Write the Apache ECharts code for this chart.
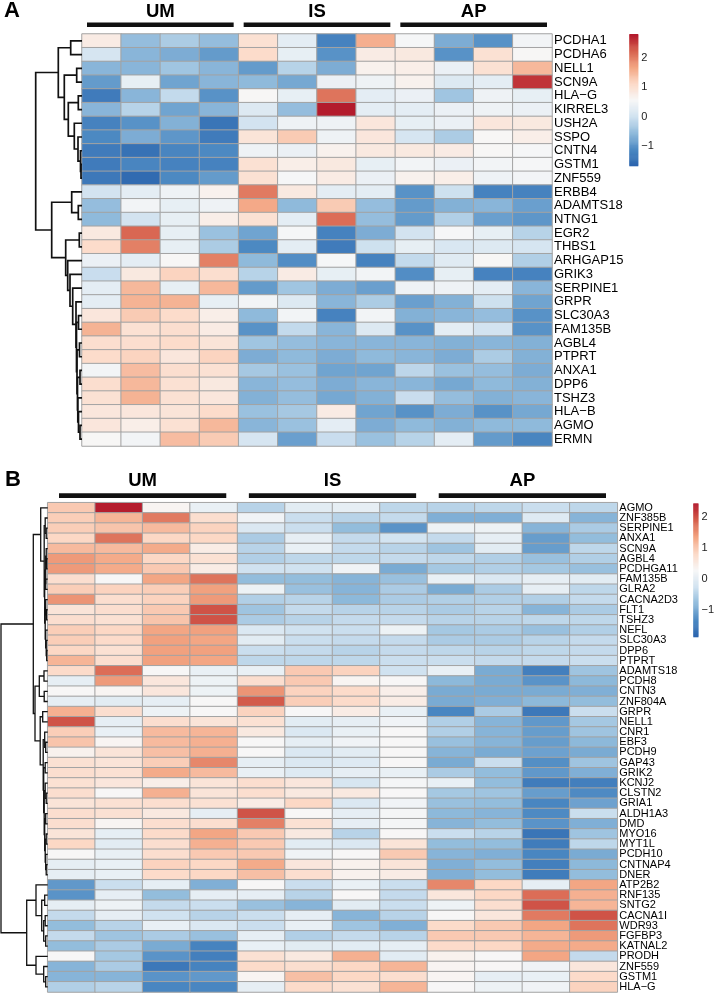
<!DOCTYPE html>
<html><head><meta charset="utf-8">
<script src="https://cdn.jsdelivr.net/npm/echarts@6/dist/echarts.min.js"></script>
<style>html,body{margin:0;padding:0;background:#fff}#c{width:717px;height:993px}</style>
</head><body><div id="c"></div>
<script>
const FONT = 'Liberation Sans, Arial, Helvetica, sans-serif';
const samples = ['UM1','UM2','UM3','UM4','IS1','IS2','IS3','IS4','AP1','AP2','AP3','AP4'];
const groups = ['UM','IS','AP'];
const groupCols = [[0,3],[4,7],[8,11]];

const genesA = ['PCDHA1','PCDHA6','NELL1','SCN9A','HLA\u2212G','KIRREL3','USH2A','SSPO','CNTN4','GSTM1','ZNF559','ERBB4','ADAMTS18','NTNG1','EGR2','THBS1','ARHGAP15','GRIK3','SERPINE1','GRPR','SLC30A3','FAM135B','AGBL4','PTPRT','ANXA1','DPP6','TSHZ3','HLA\u2212B','AGMO','ERMN'];
const valuesA = [
[0.8,-0.5,-0.3,-0.5, 1.0,0.3,-1.2,1.6, 0.55,-0.7,-1.0,0.5],
[0.1,-0.6,-0.7,-0.9, 1.1,0.35,-1.0,0.8, 0.85,-1.0,1.0,0.6],
[-0.6,-0.6,-0.4,-0.6, -0.9,-0.2,-0.7,0.7, 0.75,0.4,1.0,1.5],
[-0.9,0.35,-0.8,-0.6, -0.55,-0.75,0.4,0.45, 0.7,0.2,0.3,2.6],
[-1.3,-0.6,-0.1,-1.0, 0.6,0.35,2.1,0.3, 0.4,-0.4,0.45,0.35],
[-0.6,-0.2,-0.8,-0.6, 0.2,-0.5,2.8,0.3, 0.3,0.4,0.45,0.4],
[-1.2,-1.0,-0.65,-1.4, 0.05,0.45,0.45,0.9, 0.35,0.4,0.9,0.85],
[-1.1,-0.7,-0.95,-1.3, 0.95,1.3,0.45,0.9, 0.1,-0.3,0.6,0.75],
[-1.3,-1.45,-1.15,-1.1, 0.45,0.4,0.7,0.85, 0.85,0.8,0.6,0.55],
[-1.3,-1.15,-1.2,-1.2, 1.0,0.75,0.85,0.35, 0.5,0.4,0.5,0.55],
[-1.35,-1.55,-1.1,-0.9, 1.0,0.55,0.8,0.4, 0.7,0.75,0.45,0.5],
[0.05,0.3,0.45,0.7, 2.05,0.85,0.3,0.3, -1.0,0.0,-1.2,-1.2],
[-0.5,0.5,0.35,0.45, 1.65,-0.55,1.3,-0.5, -0.9,-0.65,-0.6,-0.85],
[-0.55,0.05,0.35,0.75, 1.0,0.3,2.15,-0.5, -0.9,-0.25,-0.85,-0.95],
[0.85,2.2,0.35,-0.45, -0.8,0.55,-1.2,-0.7, 0.05,0.55,0.35,-0.2],
[1.1,2.0,0.35,-0.3, -1.1,0.3,-1.3,0.0, 0.35,0.15,0.2,0.1],
[0.4,0.3,0.6,2.0, -0.55,-1.05,0.55,-1.2, -0.1,0.25,0.6,-0.25],
[-0.05,0.85,1.2,1.05, -0.2,0.8,0.35,0.5, -1.05,0.35,-1.2,-1.2],
[0.3,1.5,0.35,1.5, -0.9,-0.4,-0.7,-0.85, 0.45,0.45,0.3,-0.6],
[0.3,1.55,1.55,0.35, 0.5,0.2,-0.6,-0.3, -0.85,-0.65,0.0,-0.8],
[0.9,1.3,1.1,0.75, -0.55,0.5,-1.2,0.5, -0.65,-0.6,-0.5,-1.0],
[1.55,1.0,1.05,0.8, -1.0,-0.1,-0.6,0.2, -1.0,0.3,0.05,-1.0],
[1.05,1.05,1.1,0.95, -0.4,-0.5,-0.6,-0.6, -0.6,-0.65,-0.6,-0.65],
[1.1,1.2,0.9,1.2, -0.7,-0.55,-0.7,-0.55, -0.6,-0.7,-0.3,-0.65],
[0.5,1.45,1.05,1.0, -0.35,-0.45,-0.8,-0.8, -0.15,-0.45,-0.5,-0.7],
[1.05,1.5,1.0,0.85, -0.6,-0.5,-0.7,-0.6, -0.6,-0.75,-0.55,-0.65],
[1.0,1.55,1.0,0.9, -0.65,-0.5,-0.75,-0.65, -0.05,-0.5,-0.65,-0.6],
[0.9,0.9,0.95,1.1, -0.45,-0.35,0.8,-0.8, -1.0,-0.7,-1.0,-0.75],
[0.9,0.75,1.0,1.5, -0.6,-0.45,0.3,-0.7, -0.55,-0.65,-0.55,-0.55],
[0.6,0.5,1.45,1.3, 0.1,-0.85,-0.05,-0.45, -0.2,0.3,-0.9,-1.15]
];
// dendrogram: [height, left, right]; leaf = row index
const treeA =
[46.3,
  [23.7,
    [11.3, 0, 1],
    [17.7,
      [5.3, 2, 3],
      [13.7,
        [3.7, 4, 5],
        [7.7, 6, [4, 7, [1.5, 8, [1, 9, 10]]]]]]],
  [30.3,
    [10.3, 11, [3.7, 12, 13]],
    [16.3,
      [2.7, 14, 15],
      [14.3, 16,
        [12, 17,
          [9.3, 18,
            [6, 19,
              [5.5, [3.5, 20, 21],
                [5, [2.5, 22, 23],
                  [4.5, [2, 24, 25],
                    [4.2, 26, [3.5, 27, [2, 28, 29]]]]]]]]]]]]];
const rangeA = [-1.67, 2.82];
const ticksA = [-1, 0, 1, 2];

const genesB = ['AGMO','ZNF385B','SERPINE1','ANXA1','SCN9A','AGBL4','PCDHGA11','FAM135B','GLRA2','CACNA2D3','FLT1','TSHZ3','NEFL','SLC30A3','DPP6','PTPRT','ADAMTS18','PCDH8','CNTN3','ZNF804A','GRPR','NELL1','CNR1','EBF3','PCDH9','GAP43','GRIK2','KCNJ2','CLSTN2','GRIA1','ALDH1A3','DMD','MYO16','MYT1L','PCDH10','CNTNAP4','DNER','ATP2B2','RNF135','SNTG2','CACNA1I','WDR93','FGFBP3','KATNAL2','PRODH','ZNF559','GSTM1','HLA\u2212G'];
const valuesB = [
[1.0,2.4,0.35,0.1, -0.45,0.0,0.05,-0.4, -0.45,-0.4,-0.3,-0.4],
[0.95,1.2,1.7,0.75, 0.2,-0.3,-0.45,-0.35, -0.9,-0.9,-0.05,-0.85],
[0.95,1.05,1.15,0.9, -0.1,-0.3,-0.75,-1.2, 0.15,0.15,-0.85,-0.55],
[0.85,1.75,0.85,0.85, -0.55,0.05,-0.35,-0.2, -0.35,0.05,-1.1,-0.75],
[1.15,1.15,1.3,0.5, -0.45,0.1,-0.35,-0.45, -0.65,0.0,-1.1,-0.4],
[1.45,1.3,0.85,0.7, -0.5,-0.4,-0.4,-0.35, -0.4,-0.5,-0.7,-0.5],
[1.45,1.3,1.0,0.5, -0.25,-0.25,0.2,-0.95, -0.6,-0.5,-0.6,-0.7],
[0.75,0.3,1.35,1.75, -0.75,-0.75,-0.85,-0.7, 0.1,-0.1,0.05,0.0],
[0.95,0.9,0.95,1.4, 0.15,-0.7,-0.85,-0.55, -0.95,-0.55,0.05,-0.4],
[1.5,0.75,0.9,1.45, -0.5,-0.45,-0.8,-0.55, -0.5,-0.5,-0.5,-0.35],
[0.65,0.75,1.0,2.0, -0.65,-0.35,-0.45,-0.45, -0.55,-0.45,-0.85,-0.55],
[0.75,0.7,1.05,2.0, -0.55,-0.45,-0.35,-0.35, -0.45,-0.45,-0.4,-0.4],
[0.95,0.85,1.35,1.4, -0.1,-0.25,-0.3,0.15, -0.6,-0.55,-0.7,-0.5],
[0.95,0.8,1.4,1.35, 0.0,-0.3,-0.35,-0.35, -0.55,-0.55,-0.45,-0.35],
[0.85,0.7,1.4,1.4, -0.3,-0.35,-0.45,-0.35, -0.4,-0.45,-0.4,-0.35],
[1.2,0.75,1.4,1.35, -0.4,-0.4,-0.4,-0.3, -0.3,-0.35,-0.35,-0.3],
[0.8,1.8,0.3,0.1, 0.1,1.0,0.9,-0.25, 0.1,-0.95,-1.45,-0.65],
[0.05,1.45,0.6,0.15, 0.75,1.0,0.35,0.3, -0.8,-0.95,-1.2,-0.8],
[0.3,0.35,0.6,0.15, 1.5,0.9,0.8,0.45, -0.95,-0.95,-0.95,-0.9],
[0.05,0.0,0.05,0.3, 1.95,0.95,0.8,0.5, -0.95,-0.9,-0.8,-0.75],
[1.25,0.75,0.15,0.3, 0.9,0.3,0.5,0.1, -1.35,-0.55,-1.55,-0.3],
[2.0,0.05,0.75,0.65, 0.7,0.0,0.05,0.2, -0.5,-0.85,-1.15,-0.6],
[0.95,0.1,1.15,1.2, 0.55,-0.1,0.1,0.3, -0.5,-0.85,-1.1,-0.65],
[1.05,0.35,1.15,1.25, 0.3,0.05,0.2,0.3, -0.7,-0.85,-1.1,-0.8],
[0.4,0.65,1.1,1.25, 0.3,-0.1,0.0,0.3, -0.85,-0.95,-1.05,-0.95],
[0.7,0.65,0.95,1.6, 0.05,-0.1,-0.05,0.3, -0.95,-0.3,-1.25,-0.65],
[0.75,0.7,1.3,1.15, 0.1,-0.05,0.05,0.1, -0.55,-0.75,-1.15,-0.9],
[0.7,0.6,0.45,0.65, 0.75,0.6,-0.15,0.25, 0.1,-0.75,-1.5,-1.45],
[0.75,0.3,1.25,0.65, 0.75,0.55,0.55,0.3, -0.6,-0.65,-1.1,-1.3],
[0.65,0.7,0.75,0.7, 0.5,0.85,-0.1,0.2, -0.7,-0.75,-1.35,-1.05],
[0.75,0.7,0.55,0.05, 2.0,0.3,0.05,0.25, -0.8,-0.85,-1.3,-0.3],
[0.75,0.35,0.75,0.75, 1.65,0.7,0.05,0.25, -0.85,-0.75,-1.2,-0.9],
[0.65,0.05,0.8,1.35, 1.0,0.55,-0.45,0.3, -0.3,-0.45,-1.6,-0.65],
[0.85,0.0,0.75,1.25, 1.0,0.0,-0.1,0.65, -0.75,-0.75,-1.5,-0.4],
[0.3,0.1,0.75,1.0, 1.0,0.2,0.3,1.0, -0.85,-0.9,-1.35,-0.95],
[0.05,0.1,0.9,0.85, 1.3,0.6,0.4,0.65, -0.9,-0.75,-1.45,-0.8],
[0.05,0.1,0.8,0.85, 1.1,0.75,0.4,0.5, -0.9,-0.75,-1.5,-0.75],
[-1.15,-0.3,0.05,-0.9, 0.3,-0.3,0.1,-0.3, 1.6,0.85,0.05,1.35],
[-1.2,0.05,-0.75,0.05, 0.05,-0.45,0.3,-0.35, 0.6,0.85,1.8,1.25],
[0.05,0.15,-0.35,-0.3, -0.7,-0.85,0.0,-0.3, 0.15,0.75,2.0,1.2],
[-0.35,0.05,-0.25,-0.45, -0.3,0.05,-0.85,-0.45, 0.3,0.6,1.7,2.0],
[-0.75,-0.45,0.1,-0.1, -0.3,0.1,-0.65,-0.9, 0.8,1.0,1.35,1.75],
[-0.35,-0.65,-0.55,-0.7, 0.05,-0.5,-0.35,-0.45, 1.0,1.0,1.2,1.45],
[-0.75,-0.55,-0.95,-1.4, 0.1,0.0,0.0,0.05, 0.8,0.85,1.3,1.3],
[0.3,-0.6,-1.2,-1.45, 0.7,0.55,1.25,0.0, 0.4,0.3,1.35,-0.35],
[-0.85,-0.55,-1.55,-1.4, 0.8,0.75,0.85,1.2, 0.35,0.3,0.2,0.6],
[-0.85,-0.85,-1.2,-1.15, 0.35,1.1,0.85,0.75, 0.35,0.05,0.1,0.8],
[-0.5,-0.45,-1.35,-1.35, 0.05,0.8,0.7,1.2, 0.3,0.15,0.2,0.9]
];
const treeB =
[46.7,
  [14.4,
    [7, 0,
      [3.5, [2.5, 1, [1.5, 2, 3]],
        [3, [2, [1.5, 4, [1, 5, 6]], [2, 7, 8]],
          [2.5, [2, 9, [1.2, 10, 11]], [2, 12, [1.5, 13, [1, 14, 15]]]]]]],
    [12.7,
      [8.4, [3.7, 16, 17], [3.5, 18, 19]],
      [7.5, [5, 20, 21],
        [4.5, [3, 22, [2, 23, 24]],
          [4, [2.5, 25, 26],
            [3.5, [2.5, 27, [1.5, 28, 29]],
              [3, [2, 30, 31], [2.5, [1.5, 32, 33], [2, 34, [1.5, 35, 36]]]]]]]]]],
  [21,
    [11.7, 37, [6, [3, 38, 39], [4, [2.5, 40, 41], [2, 42, 43]]]],
    [11.7, 44, [4, 45, [2, 46, 47]]]]];
const rangeB = [-1.86, 2.44];
const ticksB = [-1, 0, 1, 2];

const palette = ['#2a63ad','#4b88c2','#8fbadb','#d0e2f0','#f7f7f7','#fcdac8','#f3a582','#d6604d','#b2182b'];

function cells(vals){ const d=[]; vals.forEach((row,r)=>row.forEach((v,c)=>d.push([c,r,v]))); return d; }
function dendro(tree){
  const segs=[];
  (function walk(n){
    if(typeof n==='number') return {y:n,h:0};
    const l=walk(n[1]), r=walk(n[2]);
    segs.push([l.h,l.y,n[0],r.y,r.h]);
    return {y:(l.y+r.y)/2,h:n[0]};
  })(tree);
  return segs;
}
function steps(range,n){ const d=[]; for(let i=0;i<n;i++){ const lo=range[0]+(range[1]-range[0])*i/n, hi=range[0]+(range[1]-range[0])*(i+1)/n; d.push([lo,hi,(lo+hi)/2]); } return d; }
function fmt(v){ return v<0 ? '\u2212'+Math.abs(v) : String(v); }

function dendroRender(lw){ return function(params, api){
  const p=[api.coord([api.value(0),api.value(1)]),api.coord([api.value(2),api.value(1)]),api.coord([api.value(2),api.value(3)]),api.coord([api.value(4),api.value(3)])];
  return {type:'polyline', shape:{points:p}, style:{stroke:'#111', lineWidth:lw, fill:null}};
};}
function cbarRender(params, api){
  const a=api.coord([0,api.value(0)]), b=api.coord([1,api.value(1)]);
  return {type:'rect', shape:{x:a[0], y:b[1], width:b[0]-a[0], height:a[1]-b[1]+0.6}, style:{fill:api.visual('color')}};
}
function headerRender(inset, barOff, barH, labOff, fs){ return function(params, api){
  const cs=params.coordSys, w=api.size([1,1])[0];
  const x0=api.coord([api.value(0),0])[0]-w/2+inset, x1=api.coord([api.value(1),0])[0]+w/2-inset;
  return {type:'group', children:[
    {type:'rect', shape:{x:x0, y:cs.y-barOff, width:x1-x0, height:barH}, style:{fill:'#111'}},
    {type:'text', style:{text:groups[params.dataIndex], x:(x0+x1)/2, y:cs.y-labOff, align:'center', verticalAlign:'middle', fontSize:fs, fontWeight:'bold', fontFamily:FONT, fill:'#000'}}
  ]};
};}

const hidden = {show:false};
function catY(genes, grid, fs){
  return {type:'category', gridIndex:grid, data:genes, inverse:true, position:'right',
    axisLine:{show:false}, axisTick:{show:false}, splitLine:{show:false},
    axisLabel:{fontSize:fs, color:'#000', margin:2, fontFamily:FONT, interval:0}};
}
function cbY(range, ticks, grid){
  return {type:'value', gridIndex:grid, min:range[0], max:range[1], position:'right',
    axisLine:{show:false}, axisTick:{show:false}, splitLine:{show:false},
    axisLabel:{customValues:ticks, formatter:fmt, fontSize:11, color:'#222', margin:3, fontFamily:FONT}};
}

const chart = echarts.init(document.getElementById('c'), null, {renderer:'canvas'});
chart.setOption({
  animation:false,
  backgroundColor:'#fff',
  textStyle:{fontFamily:FONT},
  title:[
    {text:'A', left:4, top:0, padding:0, textStyle:{fontSize:22, fontWeight:'bold', color:'#000', fontFamily:FONT}},
    {text:'B', left:5, top:469, padding:0, textStyle:{fontSize:22, fontWeight:'bold', color:'#000', fontFamily:FONT}}
  ],
  grid:[
    {left:82, top:34, width:470, height:412},
    {left:33, top:34, width:49, height:412},
    {left:629.3, top:34, width:9, height:131.7},
    {left:47.7, top:502.7, width:569.6, height:489.3},
    {left:0, top:502.7, width:47.7, height:489.3},
    {left:693.3, top:503.3, width:10, height:133.4}
  ],
  xAxis:[
    {type:'category', gridIndex:0, data:samples, show:false},
    {type:'value', gridIndex:1, min:0, max:49, inverse:true, show:false},
    {type:'value', gridIndex:2, min:0, max:1, show:false},
    {type:'category', gridIndex:3, data:samples, show:false},
    {type:'value', gridIndex:4, min:0, max:47.7, inverse:true, show:false},
    {type:'value', gridIndex:5, min:0, max:1, show:false}
  ],
  yAxis:[
    catY(genesA, 0, 13),
    {type:'value', gridIndex:1, min:-0.5, max:genesA.length-0.5, inverse:true, show:false},
    cbY(rangeA, ticksA, 2),
    catY(genesB, 3, 11),
    {type:'value', gridIndex:4, min:-0.5, max:genesB.length-0.5, inverse:true, show:false},
    cbY(rangeB, ticksB, 5)
  ],
  visualMap:[
    {type:'continuous', show:false, min:rangeA[0], max:rangeA[1], dimension:2, seriesIndex:[0,1], inRange:{color:palette}},
    {type:'continuous', show:false, min:rangeB[0], max:rangeB[1], dimension:2, seriesIndex:[4,5], inRange:{color:palette}}
  ],
  series:[
    {type:'heatmap', xAxisIndex:0, yAxisIndex:0, data:cells(valuesA), itemStyle:{borderColor:'#a3a3a3', borderWidth:1}, emphasis:{disabled:true}},
    {type:'custom', xAxisIndex:2, yAxisIndex:2, data:steps(rangeA,140), renderItem:cbarRender, silent:true},
    {type:'custom', xAxisIndex:1, yAxisIndex:1, data:dendro(treeA), renderItem:dendroRender(1.7), silent:true, clip:false},
    {type:'custom', xAxisIndex:0, yAxisIndex:0, data:groupCols, renderItem:headerRender(5,11.5,4.5,22.3,18.5), silent:true, clip:false},
    {type:'heatmap', xAxisIndex:3, yAxisIndex:3, data:cells(valuesB), itemStyle:{borderColor:'#a3a3a3', borderWidth:1}, emphasis:{disabled:true}},
    {type:'custom', xAxisIndex:5, yAxisIndex:5, data:steps(rangeB,140), renderItem:cbarRender, silent:true},
    {type:'custom', xAxisIndex:4, yAxisIndex:4, data:dendro(treeB), renderItem:dendroRender(1.3), silent:true, clip:false},
    {type:'custom', xAxisIndex:3, yAxisIndex:3, data:groupCols, renderItem:headerRender(11.3,9.4,4.7,21.7,18.5), silent:true, clip:false}
  ]
});
</script></body></html>
